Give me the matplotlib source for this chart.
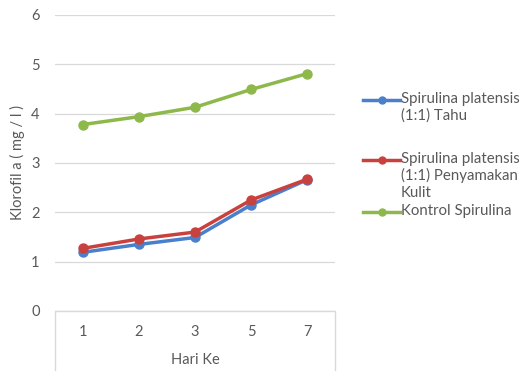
import numpy as np
import matplotlib.pyplot as plt
from matplotlib.lines import Line2D
from matplotlib.patches import Rectangle

days = ["1", "2", "3", "5", "7"]
tahu = [1.19, 1.35, 1.49, 2.15, 2.66]
kulit = [1.27, 1.46, 1.60, 2.25, 2.67]
kontrol = [3.78, 3.94, 4.13, 4.49, 4.81]

labels = ["Spirulina platensis\n(1:1) Tahu",
          "Spirulina platensis\n(1:1) Penyamakan\nKulit",
          "Kontrol Spirulina"]
colors = ["#4a7fcb", "#c9413e", "#8db84a"]

plt.rcParams['font.family'] = ['Lato', 'DejaVu Sans']
txt = "#595959"

fig = plt.figure(figsize=(5.23, 3.71), dpi=100)
ax = fig.add_axes([55/523, 60/371, 280/523, 296/371])

x = np.arange(len(days))
for ys, c in zip([tahu, kulit, kontrol], colors):
    ax.plot(x, ys, color=c, lw=2.5, marker='o', ms=6.5, solid_capstyle='round')

ax.set_xlim(-0.5, len(days) - 0.5)
ax.set_ylim(0, 6)
ax.set_yticks(range(7))
ax.set_xticks(x)
ax.set_xticklabels(days)
ax.grid(axis='y', color='#d9d9d9', lw=0.9)
ax.set_axisbelow(True)
for s in ax.spines.values():
    s.set_visible(False)
ax.tick_params(length=0, labelsize=10.5, colors=txt)
ax.tick_params(axis='x', pad=10)
ax.tick_params(axis='y', pad=11)
ax.set_xlabel("Hari Ke", fontsize=10.5, color=txt, va='center')
ax.xaxis.set_label_coords(0.5, -49/296)
ax.set_ylabel("Klorofil a ( mg / l )", fontsize=10.5, color=txt, va='center')
ax.yaxis.set_label_coords(-38/280, 0.5)

# box around the category axis
ax.add_patch(Rectangle((0, -0.25), 1, 0.25, transform=ax.transAxes, fill=False,
                       ec='#d9d9d9', lw=1, clip_on=False))

# legend
leg_y = [100, 160, 212]
for lab, c, yy in zip(labels, colors, leg_y):
    fy = 1 - yy / 371
    fig.add_artist(Line2D([363/523, 400/523], [fy, fy], color=c, lw=2.5,
                          transform=fig.transFigure))
    fig.add_artist(Line2D([381.5/523], [fy], color=c, marker='o', ms=5,
                          transform=fig.transFigure))
    fig.text(401/523, fy + 8/371, lab, fontsize=10.8, color=txt, va='top',
             ha='left', linespacing=1.2)

fig.savefig("out.png", dpi=100)
